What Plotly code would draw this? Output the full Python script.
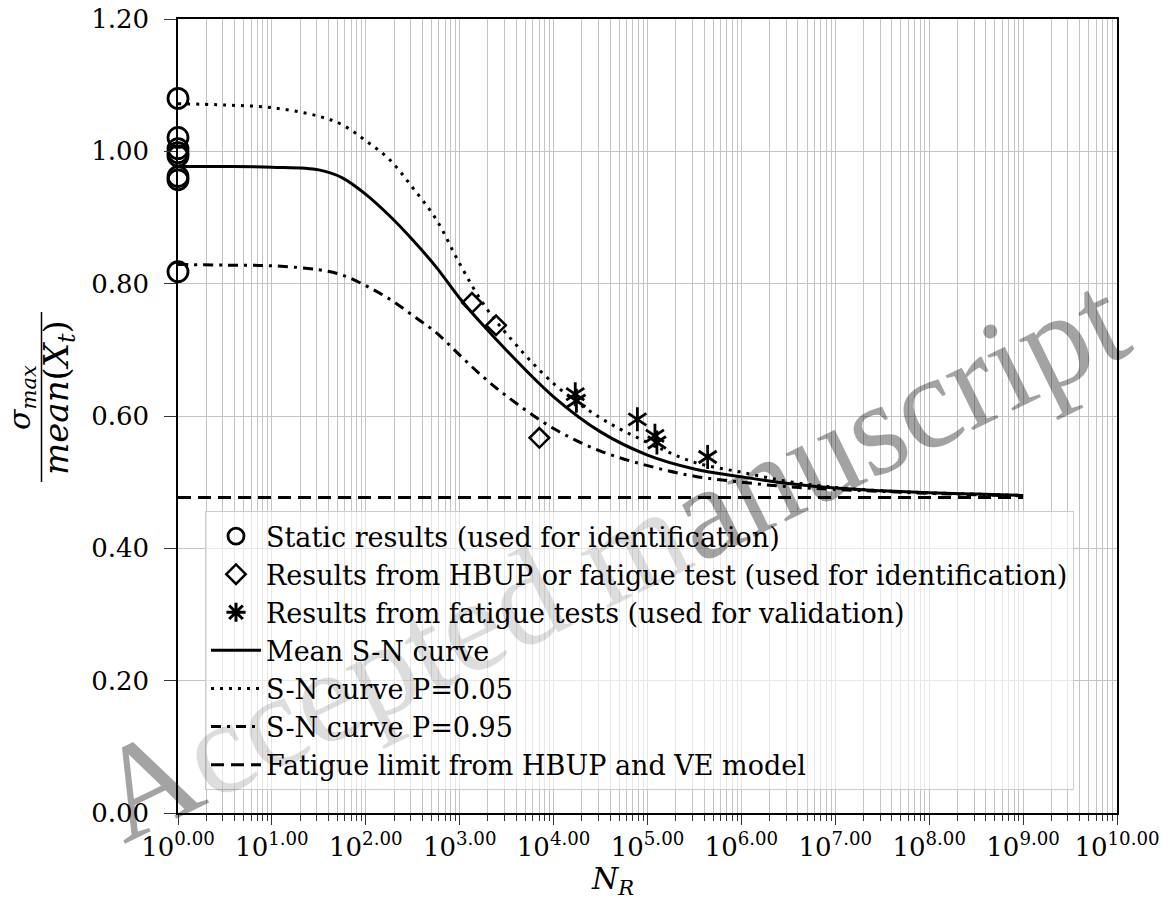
import numpy as np
import plotly.graph_objects as go

# ---------------- data ----------------
static_n = [1, 1, 1, 1, 1, 1, 1, 1]
static_y = [1.080, 1.021, 1.004, 0.998, 0.993, 0.962, 0.957, 0.818]

hbup_n = [1350, 2440, 7050]
hbup_y = [0.771, 0.737, 0.567]

valid_n = [17000, 17500, 78000, 120000, 126000, 437000]
valid_y = [0.633, 0.623, 0.595, 0.570, 0.560, 0.538]

curve_log_n = [0, 0.5, 1.0, 1.5, 1.75, 2.0, 2.25, 2.5, 2.75, 3.0, 3.25, 3.5,
               4.0, 4.5, 5.0, 5.5, 6.0, 6.5, 7.0, 7.5, 8.0, 8.5, 9.0]
mean_curve = [0.977, 0.977, 0.976, 0.972, 0.960, 0.935, 0.903, 0.866, 0.825,
              0.778, 0.737, 0.699, 0.629, 0.576, 0.541, 0.520, 0.508, 0.498,
              0.491, 0.487, 0.484, 0.482, 0.480]
p05_curve = [1.072, 1.070, 1.066, 1.053, 1.040, 1.016, 0.988, 0.945, 0.897,
             0.830, 0.770, 0.724, 0.649, 0.597, 0.560, 0.530, 0.515, 0.501,
             0.492, 0.487, 0.484, 0.482, 0.480]
p95_curve = [0.829, 0.828, 0.827, 0.821, 0.813, 0.797, 0.777, 0.752, 0.726,
             0.692, 0.659, 0.630, 0.581, 0.547, 0.525, 0.509, 0.500, 0.493,
             0.489, 0.486, 0.483, 0.481, 0.479]

limit_n = [1, 1e9]
limit_y = [0.477, 0.477]

x_tick_exp = [0, 1, 2, 3, 4, 5, 6, 7, 8, 9, 10]
y_ticks = [0.0, 0.2, 0.4, 0.6, 0.8, 1.0, 1.2]

labels = [
    "Static results (used for identification)",
    "Results from HBUP or fatigue test (used for identification)",
    "Results from fatigue tests (used for validation)",
    "Mean S-N curve",
    "S-N curve P=0.05",
    "S-N curve P=0.95",
    "Fatigue limit from HBUP and VE model",
]

# ---------------- figure ----------------
FONT = "DejaVu Serif, serif"
WM_FONT = "Liberation Serif, serif"
curve_n = [10 ** e for e in curve_log_n]

fig = go.Figure()

fig.add_trace(go.Scatter(
    x=static_n, y=static_y, mode="markers", name=labels[0], cliponaxis=False,
    marker=dict(symbol="circle-open", size=20, color="black", line=dict(width=2.8, color="black"))))
fig.add_trace(go.Scatter(
    x=hbup_n, y=hbup_y, mode="markers", name=labels[1], cliponaxis=False,
    marker=dict(symbol="diamond-open", size=15, color="black", line=dict(width=2.5, color="black"))))
# legend-only entry for the asterisk
fig.add_trace(go.Scatter(
    x=[None], y=[None], mode="markers", name=labels[2],
    marker=dict(symbol="asterisk-open", size=16, color="black", line=dict(width=3, color="black"))))
fig.add_trace(go.Scatter(
    x=curve_n, y=mean_curve, mode="lines", name=labels[3], line_shape="spline",
    line=dict(color="black", width=3)))
fig.add_trace(go.Scatter(
    x=curve_n, y=p05_curve, mode="lines", name=labels[4], line_shape="spline",
    line=dict(color="black", width=3, dash="3px,6px")))
fig.add_trace(go.Scatter(
    x=curve_n, y=p95_curve, mode="lines", name=labels[5], line_shape="spline",
    line=dict(color="black", width=3, dash="10px,6px,3px,6px")))
fig.add_trace(go.Scatter(
    x=limit_n, y=limit_y, mode="lines", name=labels[6],
    line=dict(color="black", width=3, dash="13px,7px")))
# six-spoke asterisks for validation points
for sym in ["y-up-open", "y-down-open"]:
    fig.add_trace(go.Scatter(
        x=valid_n, y=valid_y, mode="markers", showlegend=False, cliponaxis=False,
        marker=dict(symbol=sym, size=15, color="black", line=dict(width=2.8, color="black"))))

W, H = 1168, 913
L, R, T, B = 178, 51, 19, 100
pw, ph = W - L - R, H - T - B

def px(xp):
    return (xp - L) / pw

def py(yp):
    return (H - B - yp) / ph

grid_col = "#c4c4c4"
fig.update_layout(
    width=W, height=H,
    margin=dict(l=L, r=R, t=T, b=B, autoexpand=False),
    paper_bgcolor="white", plot_bgcolor="white",
    font=dict(family=FONT, size=26, color="black"),
    showlegend=True,
    legend=dict(
        x=px(205), y=py(511), xanchor="left", yanchor="top",
        bgcolor="rgba(255,255,255,0.6)", bordercolor="#cccccc", borderwidth=1,
        font=dict(family=FONT, size=27, color="black"),
        traceorder="normal", itemwidth=50, tracegroupgap=0,
    ),
    xaxis=dict(
        type="log", range=[0, 10], automargin=False,
        tickmode="array",
        tickvals=[10 ** e for e in x_tick_exp],
        ticktext=["10<sup>%.2f</sup>" % e for e in x_tick_exp],
        ticks="outside", ticklen=10, tickwidth=1.2, tickcolor="#333",
        showgrid=True, gridcolor=grid_col, gridwidth=1,
        minor=dict(dtick="D1", ticks="outside", ticklen=6, tickwidth=1, tickcolor="#333",
                   showgrid=True, gridcolor=grid_col, gridwidth=1),
        showline=True, linecolor="black", linewidth=1.5, mirror=True,
        zeroline=False, tickfont=dict(family=FONT, size=26),
    ),
    yaxis=dict(
        range=[0, 1.2], tickmode="array", tickvals=y_ticks, automargin=False,
        ticktext=["%.2f" % v for v in y_ticks],
        ticks="outside", ticklen=12, tickwidth=1.2, tickcolor="#333",
        showgrid=True, gridcolor=grid_col, gridwidth=1,
        showline=True, linecolor="black", linewidth=1.5, mirror=True,
        zeroline=False, tickfont=dict(family=FONT, size=26),
        ticklabelstandoff=10,
    ),
)

# watermark (lighter where it lies under the legend box)
dark = "rgba(0,0,0,0.6)"
light = "rgba(0,0,0,0.22)"
wm_text = ('<span style="color:%s">A</span>'
           '<span style="color:%s">ccepted m</span>'
           '<span style="color:%s">anuscript</span>') % (dark, light, dark)
fig.add_annotation(
    text=wm_text, xref="paper", yref="paper",
    x=px(610), y=py(557), xanchor="center", yanchor="middle",
    showarrow=False, textangle=-26,
    font=dict(family=WM_FONT, size=133, color=dark),
)

# y-axis title as a fraction
fig.add_annotation(
    text="<i>σ</i><sub><i>max</i></sub>", xref="paper", yref="paper",
    x=px(22), y=py(398), xanchor="center", yanchor="middle",
    showarrow=False, textangle=-90,
    font=dict(family=FONT, size=30, color="black"),
)
fig.add_annotation(
    text="<i>mean</i>(<i>X</i><sub><i>t</i></sub>)", xref="paper", yref="paper",
    x=px(59), y=py(398), xanchor="center", yanchor="middle",
    showarrow=False, textangle=-90,
    font=dict(family=FONT, size=34, color="black"),
)
fig.add_shape(type="line", xref="paper", yref="paper",
              x0=px(41.5), x1=px(41.5), y0=py(482), y1=py(312),
              line=dict(color="black", width=1.5))
# x-axis title
fig.add_annotation(
    text="<i>N</i><sub><i>R</i></sub>", xref="paper", yref="paper",
    x=px(612), y=py(880), xanchor="center", yanchor="middle",
    showarrow=False,
    font=dict(family=FONT, size=30, color="black"),
)

fig.write_html("out.html", config={"displayModeBar": False},
               post_script="document.body.style.margin='0';")
